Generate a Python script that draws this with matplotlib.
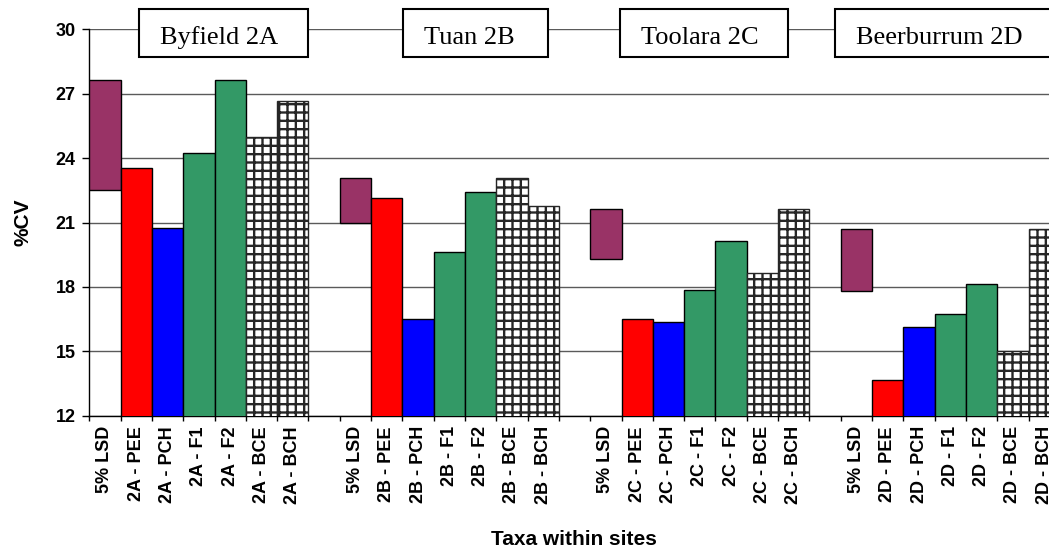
import matplotlib
matplotlib.use("Agg")
import matplotlib.pyplot as plt
import matplotlib.transforms as mtransforms
from matplotlib.patches import Rectangle
import numpy as np

# --- data -------------------------------------------------------------
sites = ["Byfield 2A", "Tuan 2B", "Toolara 2C", "Beerburrum 2D"]
codes = ["2A", "2B", "2C", "2D"]
taxa = ["PEE", "PCH", "F1", "F2", "BCE", "BCH"]

pee = [23.55, 22.13, 16.49, 13.66]
pch = [20.74, 16.50, 16.38, 16.12]
f1 = [24.25, 19.61, 17.86, 16.74]
f2 = [27.64, 22.41, 20.14, 18.15]
bce = [24.97, 23.09, 18.66, 15.03]
bch = [26.64, 21.75, 21.64, 20.71]
lsd = [5.11, 2.11, 2.34, 2.89]          # 5% LSD, hung from the site maximum

y_ticks = [12, 15, 18, 21, 24, 27, 30]

# --- styles -----------------------------------------------------------
plt.rcParams["font.family"] = ["Liberation Sans", "DejaVu Sans"]
plt.rcParams["hatch.color"] = "#262626"
plt.rcParams["hatch.linewidth"] = 1.7

lsd_color = "#993366"
taxon_style = {
    "PEE": dict(color="#FF0000", hatch=None),
    "PCH": dict(color="#0000FF", hatch=None),
    "F1": dict(color="#339966", hatch=None),
    "F2": dict(color="#339966", hatch=None),
    "BCE": dict(color="white", hatch="++"),
    "BCH": dict(color="white", hatch="++"),
}
series = {"PEE": pee, "PCH": pch, "F1": f1, "F2": f2, "BCE": bce, "BCH": bch}

fig = plt.figure(figsize=(10.49, 5.49), dpi=100)
ax = fig.add_axes([0.0851, 0.2428, 0.9253, 0.7038])

slots_per_site = len(taxa) + 1
stride = slots_per_site + 1            # one blank slot between sites
n_slots = len(sites) * stride - 1

labels = [""] * n_slots
for s, code in enumerate(codes):
    base = s * stride
    values = [series[t][s] for t in taxa]
    top = max(values)
    # LSD floating bar
    ax.bar(base, lsd[s], bottom=top - lsd[s], width=1.0, color=lsd_color,
           edgecolor="black", linewidth=1.0, zorder=3)
    labels[base] = "5% LSD"
    for k, t in enumerate(taxa):
        st = taxon_style[t]
        x = base + 1 + k
        ax.bar(x, series[t][s], width=1.0, color=st["color"],
               edgecolor="#262626" if st["hatch"] else "black",
               hatch=st["hatch"], linewidth=1.0, zorder=3)
        labels[x] = f"{code} - {t}"

ax.set_xlim(-0.5, n_slots - 0.5)
ax.set_ylim(12, 30)

# horizontal grid behind bars
ax.set_yticks(y_ticks)
ax.set_yticklabels([str(v) for v in y_ticks], fontsize=13, fontweight="bold")
ax.yaxis.grid(True, color="#5a5a5a", linewidth=1.0, zorder=0)
ax.set_axisbelow(True)
ax.tick_params(axis="y", length=5, width=1, pad=5, direction="out")

# x ticks: marks at slot boundaries, labels at slot centres
ax.set_xticks(np.arange(-0.5, n_slots, 1.0))
ax.set_xticklabels([])
ax.tick_params(axis="x", which="major", length=3.6, width=1, direction="out")
ax.set_xticks(np.arange(n_slots), minor=True)
ax.set_xticklabels(labels, minor=True, rotation=90, fontsize=13,
                   fontweight="bold", va="top", ha="center")
ax.tick_params(axis="x", which="minor", length=0, pad=7.5)

for side in ("top", "right"):
    ax.spines[side].set_visible(False)
for side in ("left", "bottom"):
    ax.spines[side].set_linewidth(1.0)
    ax.spines[side].set_color("black")

# site title boxes sitting on the top grid line
trans = mtransforms.blended_transform_factory(ax.transData, ax.transAxes)
box_left = [1.10, 9.53, 16.44, 23.32]
box_right = [6.47, 14.15, 21.83, 30.28]
text_x = [3.64, 11.64, 18.99, 26.64]
for s, name in enumerate(sites):
    ax.add_patch(Rectangle((box_left[s], 0.928), box_right[s] - box_left[s], 0.1245,
                           transform=trans, facecolor="white", edgecolor="black",
                           linewidth=1.5, clip_on=False, zorder=5))
    ax.text(text_x[s], 0.962, name, transform=trans, ha="center", va="baseline",
            fontsize=19, family=["Liberation Serif", "DejaVu Serif"], zorder=6,
            clip_on=False)

fig.text(0.0215, 0.5947, "%CV", rotation=90, ha="center", va="center",
         fontsize=15, fontweight="bold")
fig.text(0.5467, 0.0073, "Taxa within sites", ha="center", va="baseline",
         fontsize=15, fontweight="bold")

fig.savefig("out.png", dpi=100)
